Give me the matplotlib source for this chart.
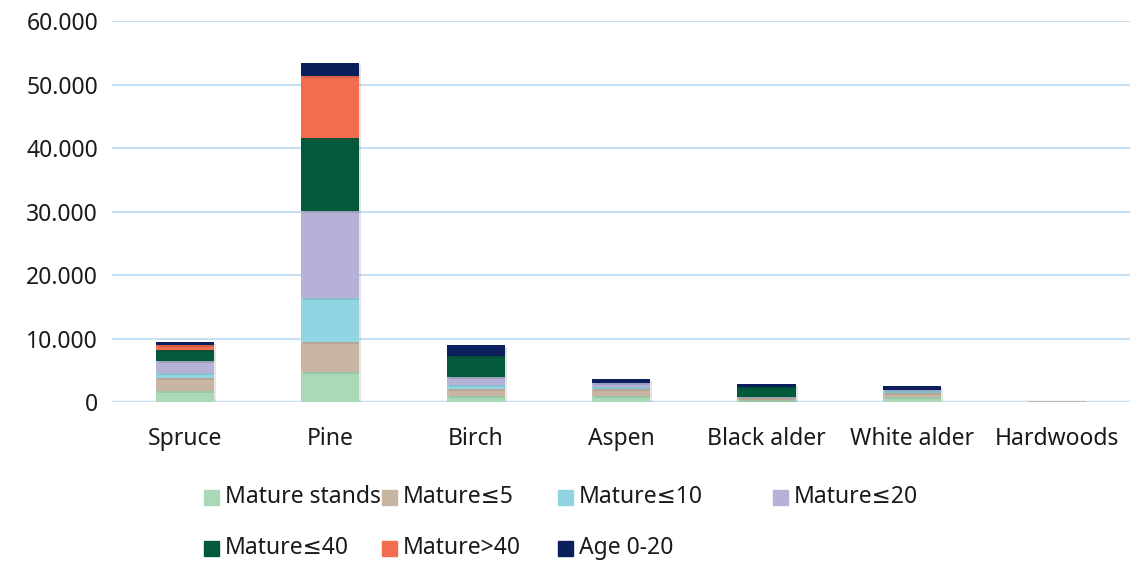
import numpy as np
import matplotlib
matplotlib.use('Agg')
import matplotlib.pyplot as plt
import matplotlib.patheffects as pe
from matplotlib.patches import Rectangle
from matplotlib.ticker import FuncFormatter

plt.rcParams['font.family'] = ['Noto Sans', 'DejaVu Sans']

species = ['Spruce', 'Pine', 'Birch', 'Aspen', 'Black alder', 'White alder', 'Hardwoods']
labels = ['Mature stands', 'Mature≤5', 'Mature≤10', 'Mature≤20',
          'Mature≤40', 'Mature>40', 'Age 0-20']
colors = ['#a9d9b6', '#c9b5a3', '#91d5e2', '#b6b1d6', '#035a3a', '#f26c4f', '#0b1f5c']

mature_stands = [1780, 4770, 1000, 1000, 270, 840, 40]
mature_5 = [1940, 4720, 1050, 1000, 300, 520, 40]
mature_10 = [890, 6880, 580, 420, 80, 420, 30]
mature_20 = [1800, 13750, 1260, 530, 150, 100, 120]
mature_40 = [1780, 11400, 3360, 0, 1520, 0, 0]
mature_gt40 = [740, 9800, 0, 0, 0, 0, 0]
age_0_20 = [570, 2100, 1680, 680, 520, 680, 0]

series = [mature_stands, mature_5, mature_10, mature_20, mature_40, mature_gt40, age_0_20]

fig = plt.figure(figsize=(11.35, 5.62), dpi=100)
ax = fig.add_axes([0.0987, 0.2847, 0.8969, 0.6779])

x = np.arange(len(species))
bottom = np.zeros(len(species))
shadow = [pe.SimplePatchShadow(offset=(1.5, -1.5), alpha=0.12), pe.Normal()]
for vals, lab, col in zip(series, labels, colors):
    bars = ax.bar(x, vals, width=0.4, bottom=bottom, color=col, label=lab, zorder=3)
    for b in bars:
        b.set_path_effects(shadow)
    bottom += np.array(vals)

ax.set_xlim(-0.5, len(species) - 0.5)
ax.set_ylim(0, 60000)
ax.set_yticks(np.arange(0, 60001, 10000))
ax.yaxis.set_major_formatter(FuncFormatter(lambda v, p: f'{int(v):,}'.replace(',', '.')))
ax.set_xticks(x)
ax.set_xticklabels(species)
ax.grid(axis='y', color='#c6dff2', linewidth=1.5, zorder=0)
ax.axhline(0, color='#c6dff2', linewidth=2.5, zorder=1)
for s in ax.spines.values():
    s.set_visible(False)
ax.tick_params(axis='both', length=0, labelsize=16.5, colors='#1a1a1a')
ax.tick_params(axis='y', pad=10)
ax.tick_params(axis='x', pad=18)

# legend laid out like the original: 4 entries per row
col_x = [204, 382, 558, 773]
row_y = [497, 548]
W, H = 1135, 562
for i, (lab, col) in enumerate(zip(labels, colors)):
    r, c = divmod(i, 4)
    px, py = col_x[c], row_y[r]
    fig.patches.append(Rectangle((px / W, 1 - (py + 7.5) / H), 15 / W, 15 / H,
                                 transform=fig.transFigure, color=col))
    fig.text((px + 21) / W, 1 - py / H, lab, fontsize=16.5, color='#1a1a1a',
             va='center', ha='left')

fig.savefig('out.png', dpi=100)
